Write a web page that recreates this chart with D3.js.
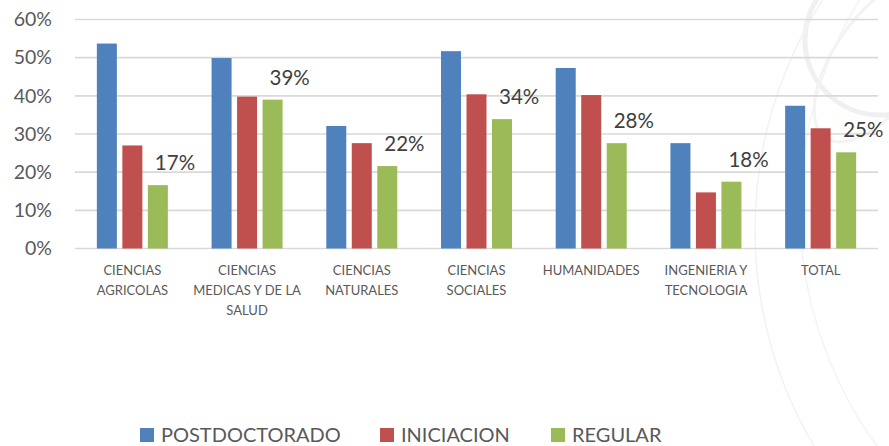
<!DOCTYPE html>
<html>
<head>
<meta charset="utf-8">
<script src="https://cdn.jsdelivr.net/npm/d3@7/dist/d3.min.js"></script>
<style>
html,body{margin:0;padding:0;background:#fff;}
svg{display:block;font-family:Lato,"Open Sans",sans-serif;}
</style>
</head>
<body>
<svg id="chart" width="889" height="446"></svg>
<script>
const categories = [
  "CIENCIAS\nAGRICOLAS",
  "CIENCIAS\nMEDICAS Y DE LA\nSALUD",
  "CIENCIAS\nNATURALES",
  "CIENCIAS\nSOCIALES",
  "HUMANIDADES",
  "INGENIERIA Y\nTECNOLOGIA",
  "TOTAL"
];
const seriesNames = ["POSTDOCTORADO", "INICIACION", "REGULAR"];
const postdoctorado = [0.537, 0.499, 0.321, 0.517, 0.473, 0.276, 0.374];
const iniciacion    = [0.270, 0.398, 0.276, 0.404, 0.402, 0.147, 0.315];
const regular       = [0.166, 0.390, 0.216, 0.339, 0.276, 0.175, 0.252];
const yTicks = [0, 0.1, 0.2, 0.3, 0.4, 0.5, 0.6];
const colors = ["#4F81BD", "#C0504D", "#9BBB59"];

const seriesValues = [postdoctorado, iniciacion, regular];
const svg = d3.select("#chart");

// faint watermark
const wm = svg.append("g").attr("fill", "none");
wm.append("circle").attr("cx", 880).attr("cy", 40).attr("r", 75)
  .attr("stroke", "#f0f0f0").attr("stroke-width", 5);
wm.append("ellipse").attr("cx", 880).attr("cy", 60).attr("rx", 95).attr("ry", 45)
  .attr("transform", "rotate(-55 880 60)")
  .attr("stroke", "#f3f3f3").attr("stroke-width", 3);
wm.append("circle").attr("cx", 1180).attr("cy", 230).attr("r", 425)
  .attr("stroke", "#f2f2f2").attr("stroke-width", 1.5);
wm.append("circle").attr("cx", 1200).attr("cy", 210).attr("r", 400)
  .attr("stroke", "#f4f4f4").attr("stroke-width", 1.5);

const plotLeft = 75, plotRight = 878, plotTop = 19.5, plotBottom = 248.5;

const y = d3.scaleLinear().domain([0, 0.6]).range([plotBottom, plotTop]);
const x0 = d3.scaleBand().domain(d3.range(categories.length)).range([plotLeft, plotRight]).paddingInner(0).paddingOuter(0);
const groupW = 71;
const x1 = d3.scaleBand().domain(d3.range(seriesNames.length)).range([0, groupW]).paddingInner(0.2157).paddingOuter(0);

// gridlines
svg.append("g").selectAll("line").data(yTicks).join("line")
  .attr("x1", plotLeft).attr("x2", plotRight)
  .attr("y1", d => y(d)).attr("y2", d => y(d))
  .attr("stroke", "#d9d9d9").attr("stroke-width", 1.6);

// y axis labels
const yAxis = d3.axisLeft(y).tickValues(yTicks).tickFormat(d3.format(".0%")).tickSize(0).tickPadding(0);
const ya = svg.append("g").attr("transform", "translate(52,0)").call(yAxis);
ya.select(".domain").remove();
ya.selectAll("text").attr("fill", "#595959").attr("font-size", 19.5)
  .attr("font-family", "Lato, 'Open Sans', sans-serif");

// bars
const groups = svg.append("g").selectAll("g").data(categories).join("g")
  .attr("transform", (d, i) => `translate(${x0(i) + x0.bandwidth() / 2 - groupW / 2},0)`);
groups.selectAll("rect").data((d, i) => seriesValues.map((s, j) => ({ j, v: s[i] }))).join("rect")
  .attr("x", d => x1(d.j)).attr("width", x1.bandwidth())
  .attr("y", d => y(d.v)).attr("height", d => y(0) - y(d.v))
  .attr("fill", d => colors[d.j]);

// data labels on REGULAR
groups.append("text")
  .attr("x", x1(2) + 7)
  .attr("y", (d, i) => y(regular[i]) - 15)
  .attr("fill", "#404040").attr("font-size", 20.5)
  .text((d, i) => d3.format(".0%")(regular[i]));

// category labels
const xa = d3.axisBottom(x0).tickSize(0).tickFormat("");
const xg = svg.append("g").attr("transform", `translate(0,${plotBottom})`).call(xa);
xg.select(".domain").remove();
svg.append("g").selectAll("text").data(categories).join("text")
  .attr("text-anchor", "middle").attr("fill", "#595959").attr("font-size", 13)
  .attr("transform", (d, i) => `translate(${x0(i) + x0.bandwidth() / 2},275)`)
  .selectAll("tspan").data(d => d.split("\n")).join("tspan")
  .attr("x", 0).attr("y", (d, k) => k * 20).text(d => d);

// legend
const legendX = [140, 380, 551];
const lg = svg.append("g").selectAll("g").data(seriesNames).join("g")
  .attr("transform", (d, i) => `translate(${legendX[i]},428)`);
lg.append("rect").attr("width", 14).attr("height", 14).attr("fill", (d, i) => colors[i]);
lg.append("text").attr("x", 21).attr("y", 14).attr("fill", "#595959").attr("font-size", 20).text(d => d);
</script>
</body>
</html>
